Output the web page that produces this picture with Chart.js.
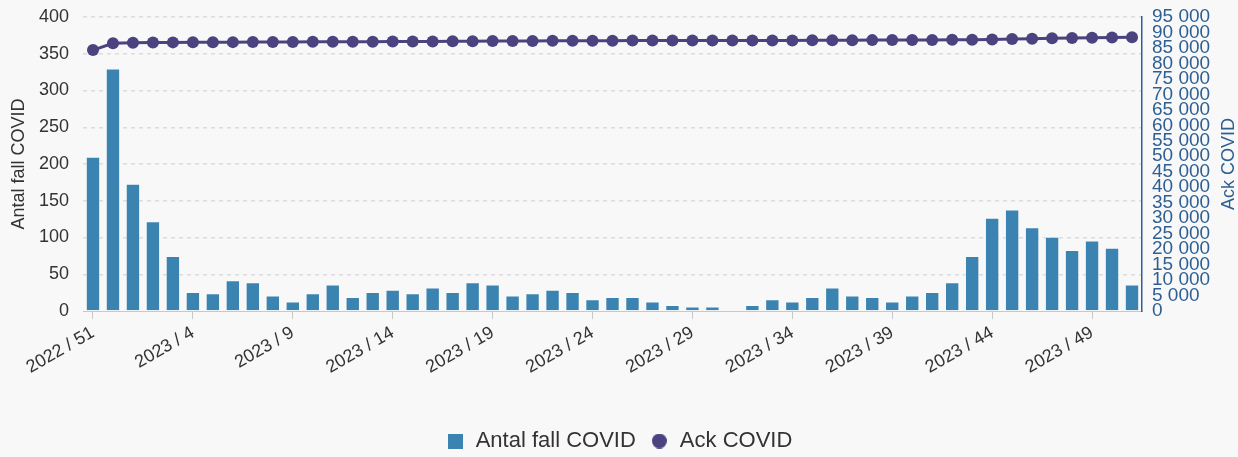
<!DOCTYPE html>
<html>
<head>
<meta charset="utf-8">
<script src="https://cdn.jsdelivr.net/npm/chart.js@4/dist/chart.umd.min.js"></script>
<style>
  html, body { margin: 0; padding: 0; background: #f8f8f8; }
  #wrap { width: 1238px; height: 457px; position: relative; }
</style>
</head>
<body>
<div id="wrap"><canvas id="chart"></canvas></div>
<script>
// weeks shown on x axis
const weeks = [
  "2022 / 51", "2022 / 52",
  "2023 / 1", "2023 / 2", "2023 / 3", "2023 / 4", "2023 / 5", "2023 / 6", "2023 / 7", "2023 / 8",
  "2023 / 9", "2023 / 10", "2023 / 11", "2023 / 12", "2023 / 13", "2023 / 14", "2023 / 15", "2023 / 16",
  "2023 / 17", "2023 / 18", "2023 / 19", "2023 / 20", "2023 / 21", "2023 / 22", "2023 / 23", "2023 / 24",
  "2023 / 25", "2023 / 26", "2023 / 27", "2023 / 28", "2023 / 29", "2023 / 30", "2023 / 31", "2023 / 32",
  "2023 / 33", "2023 / 34", "2023 / 35", "2023 / 36", "2023 / 37", "2023 / 38", "2023 / 39", "2023 / 40",
  "2023 / 41", "2023 / 42", "2023 / 43", "2023 / 44", "2023 / 45", "2023 / 46", "2023 / 47", "2023 / 48",
  "2023 / 49", "2023 / 50", "2023 / 51"
];

// weekly cases (bars, left axis)
const antalFall = [
  210, 330, 173, 122, 75, 26, 24, 42, 39, 21,
  13, 24, 36, 19, 26, 29, 24, 32, 26, 39,
  36, 21, 24, 29, 26, 16, 19, 19, 13, 8,
  6, 6, 1, 8, 16, 13, 19, 32, 21, 19,
  13, 21, 26, 39, 75, 127, 138, 114, 101, 83,
  96, 86, 36
];

// cumulative cases (line, right axis)
const ackFall = [
  84300, 86500, 86650, 86750, 86800, 86830, 86850, 86880, 86920, 86940,
  86950, 86970, 87000, 87020, 87040, 87070, 87090, 87120, 87150, 87190,
  87220, 87240, 87260, 87290, 87310, 87330, 87350, 87370, 87380, 87390,
  87400, 87400, 87410, 87420, 87430, 87440, 87460, 87490, 87510, 87530,
  87540, 87560, 87590, 87630, 87680, 87760, 87860, 87960, 88100, 88200,
  88280, 88380, 88420
];

const leftTicks = [0, 400, 50];
const rightTicks = [0, 95000, 5000];

const barColor = "#3b84b1";
const lineColor = "#4a437f";
const textGrey = "#333";
const axisBlue = "#2d5f93";
const font = "'Liberation Sans', Arial, sans-serif";

const fmt = (v) => String(v).replace(/\B(?=(\d{3})+(?!\d))/g, " ");

// small legend markers: square for bars, dot for the line
const marker = (shape, color) => {
  const c = document.createElement("canvas");
  c.width = 15;
  c.height = 15;
  const g = c.getContext("2d");
  g.fillStyle = color;
  if (shape === "square") {
    g.fillRect(0, 0, 15, 15);
  } else {
    g.beginPath();
    g.arc(7.5, 7.5, 7.5, 0, Math.PI * 2);
    g.fill();
  }
  return c;
};
const markers = [marker("square", barColor), marker("dot", lineColor)];

// right axis title reads bottom-to-top like the left one
const rightTitle = {
  id: "rightTitle",
  afterDraw(chart) {
    const { ctx, chartArea } = chart;
    const s = chart.scales.y1;
    ctx.save();
    ctx.translate(s.right - 9, (chartArea.top + chartArea.bottom) / 2);
    ctx.rotate(-Math.PI / 2);
    ctx.font = `18px ${font}`;
    ctx.fillStyle = axisBlue;
    ctx.textAlign = "center";
    ctx.textBaseline = "middle";
    ctx.fillText("Ack COVID", 0, 0);
    ctx.restore();
  },
};

const noPadY = (w) => (scale) => {
  scale.width = w;
  scale.paddingTop = 0;
  scale.paddingBottom = 0;
};

new Chart(document.getElementById("chart"), {
  type: "bar",
  data: {
    labels: weeks,
    datasets: [
      {
        type: "bar",
        label: "Antal fall COVID",
        data: antalFall,
        yAxisID: "y",
        backgroundColor: barColor,
        borderColor: "rgba(255,255,255,0.35)",
        borderWidth: 1,
        categoryPercentage: 1,
        barPercentage: 0.72,
        order: 2,
      },
      {
        type: "line",
        label: "Ack COVID",
        data: ackFall,
        yAxisID: "y1",
        borderColor: lineColor,
        backgroundColor: lineColor,
        borderWidth: 3,
        pointRadius: 6,
        pointBorderWidth: 0,
        pointHoverRadius: 6,
        order: 1,
      },
    ],
  },
  plugins: [rightTitle],
  options: {
    responsive: true,
    maintainAspectRatio: false,
    animation: false,
    layout: { padding: { top: 17, right: 0, bottom: -5, left: 0 } },
    plugins: {
      tooltip: { enabled: false },
      legend: {
        position: "bottom",
        labels: {
          usePointStyle: true,
          boxWidth: 19,
          boxHeight: 16,
          padding: 14,
          color: textGrey,
          font: { family: font, size: 22 },
          sort: (a, b) => a.datasetIndex - b.datasetIndex,
          generateLabels: (chart) =>
            Chart.defaults.plugins.legend.labels.generateLabels(chart).map((item) => ({
              ...item,
              pointStyle: markers[item.datasetIndex],
            })),
        },
      },
    },
    scales: {
      x: {
        afterFit: (scale) => {
          scale.height = 105;
          scale.paddingLeft = 0;
          scale.paddingRight = 0;
        },
        grid: {
          offset: false,
          drawOnChartArea: false,
          tickLength: 8,
          color: (ctx) => (ctx.index % 5 === 0 ? "#c8c8c8" : "rgba(0,0,0,0)"),
        },
        border: { color: "#c8c8c8", width: 1 },
        ticks: {
          autoSkip: false,
          minRotation: 30,
          maxRotation: 30,
          padding: 3,
          color: textGrey,
          font: { family: font, size: 18 },
          callback: (v, i) => (i % 5 === 0 ? weeks[i] : ""),
        },
      },
      y: {
        position: "left",
        min: leftTicks[0],
        max: leftTicks[1],
        afterFit: noPadY(83),
        grid: {
          drawTicks: false,
          color: (ctx) => (ctx.tick.value === 0 ? "rgba(0,0,0,0)" : "#dcdcdc"),
          lineWidth: 1.5,
        },
        border: { display: false, dash: [4, 4] },
        ticks: {
          stepSize: leftTicks[2],
          padding: 14,
          color: textGrey,
          font: { family: font, size: 18 },
        },
        title: {
          display: true,
          text: "Antal fall COVID",
          color: textGrey,
          padding: { top: 8, bottom: 4 },
          font: { family: font, size: 18 },
        },
      },
      y1: {
        position: "right",
        min: rightTicks[0],
        max: rightTicks[1],
        afterFit: noPadY(96),
        grid: { drawOnChartArea: false, drawTicks: false },
        border: { color: axisBlue, width: 1.5 },
        ticks: {
          stepSize: rightTicks[2],
          autoSkip: false,
          padding: 10,
          color: axisBlue,
          font: { family: font, size: 19 },
          callback: (v) => fmt(v),
        },
      },
    },
  },
});
</script>
</body>
</html>
